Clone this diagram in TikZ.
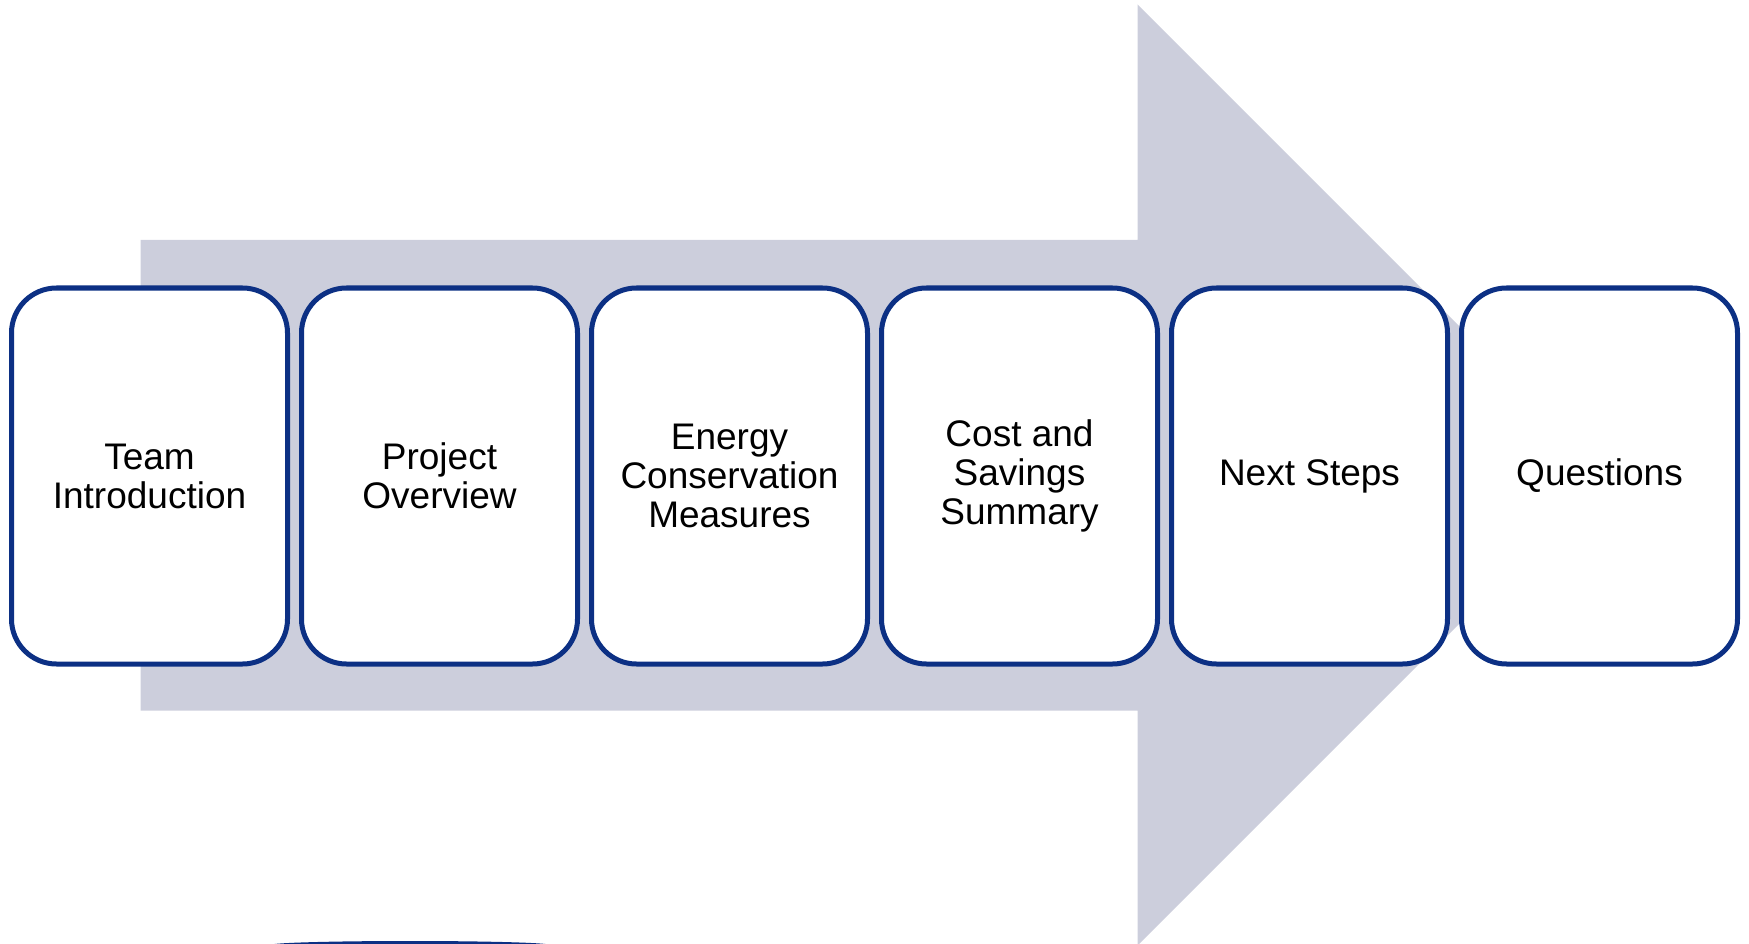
\documentclass[tikz,border=0pt]{standalone}
\usepackage{fontspec}
\setmainfont{Liberation Sans}
\usepackage{tikz}
\usetikzlibrary{positioning}
\definecolor{boxblue}{RGB}{12,48,132}
\definecolor{arrowgrey}{RGB}{204,206,220}
\tikzstyle{topic} = [rectangle, draw=boxblue, line width=5pt, fill=white, rounded corners=45pt, minimum width=276pt, minimum height=376pt, align=center, font=\fontsize{37}{39}\selectfont]

\begin{document}
\begin{tikzpicture}[x=1pt, y=-1pt, node distance=9pt]
\useasboundingbox (0,0) rectangle (1749,944);
\fill [arrowgrey] (140.5,240) -- (1137.7,240) -- (1137.7,4.5) -- (1608,475) -- (1137.7,945.5) -- (1137.7,710.5) -- (140.5,710.5) -- cycle;
\begin{scope}
\clip (0,0) rectangle (1749,944);
\fill [boxblue] (410,945) ellipse (140 and 4);
\end{scope}

\node [topic] (t1) at (149.5,476) {Team\\Introduction};
\node [topic] (t2) [right=of t1] {Project\\Overview};
\node [topic] (t3) [right=of t2] {Energy\\Conservation\\Measures};
\node [topic] (t4) [right=of t3] {Cost and\\Savings\\Summary};
\node [topic] (t5) [right=of t4] {Next Steps};
\node [topic] (t6) [right=of t5] {Questions};
\end{tikzpicture}
\end{document}
